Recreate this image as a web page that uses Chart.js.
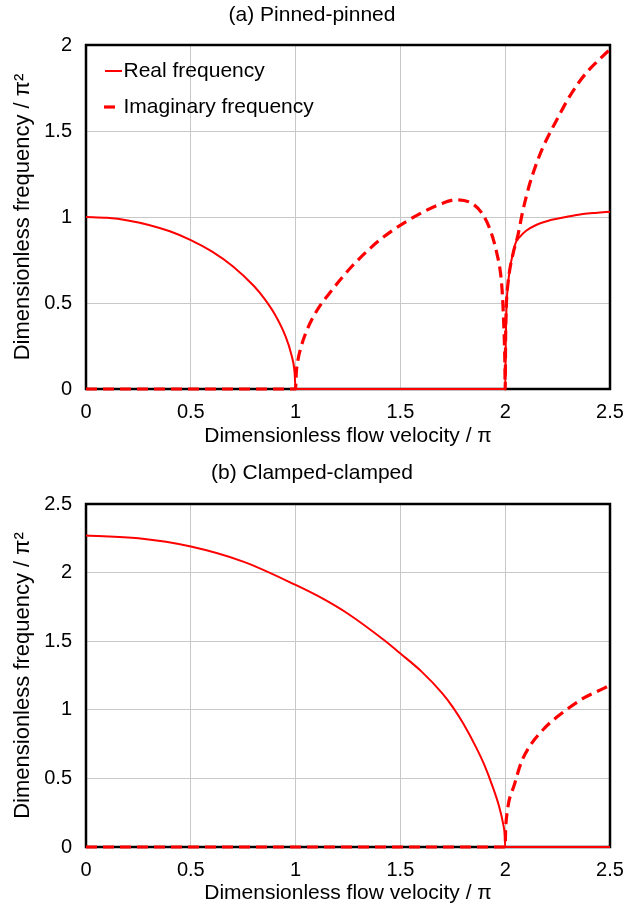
<!DOCTYPE html>
<html><head><meta charset="utf-8">
<script src="https://cdn.jsdelivr.net/npm/chart.js@4.4.1/dist/chart.umd.min.js"></script>
<style>html,body{margin:0;padding:0;background:#fff;}canvas{position:absolute;left:0;display:block;}</style>
</head><body>
<canvas id="c1" width="628" height="455" style="top:0px"></canvas>
<canvas id="c2" width="628" height="454" style="top:455px"></canvas>
<script>
// ---- text ----
const chartTitles = ['(a) Pinned-pinned', '(b) Clamped-clamped'];
const seriesNames = ['Real frequency', 'Imaginary frequency'];
const xAxisTitle = 'Dimensionless flow velocity / π';
const yAxisTitle = 'Dimensionless frequency / π²';
const xTickLabels = ['0', '0.5', '1', '1.5', '2', '2.5'];
const yTickLabelsA = ['0', '0.5', '1', '1.5', '2'];
const yTickLabelsB = ['0', '0.5', '1', '1.5', '2', '2.5'];

// ---- (a) Pinned-pinned ----
const ppRealX = [0, 0.1, 0.2, 0.3, 0.4, 0.5, 0.6, 0.7, 0.8, 0.85, 0.9, 0.95, 0.98, 0.995, 1.0, 2.0, 2.003, 2.007, 2.013, 2.02, 2.035, 2.05, 2.07, 2.1, 2.15, 2.21, 2.29, 2.37, 2.44, 2.5];
const ppRealY = [1.0, 0.995, 0.98, 0.954, 0.917, 0.866, 0.80, 0.714, 0.60, 0.527, 0.436, 0.312, 0.199, 0.1, 0, 0, 0.3, 0.5, 0.6, 0.68, 0.78, 0.85, 0.885, 0.92, 0.955, 0.98, 1.0, 1.017, 1.025, 1.031];
const ppImagX = [0, 1.0, 1.003, 1.01, 1.025, 1.05, 1.08, 1.12, 1.17, 1.22, 1.27, 1.34, 1.4, 1.46, 1.53, 1.61, 1.69, 1.765, 1.84, 1.89, 1.93, 1.96, 1.98, 1.987, 1.993, 1.998, 2.0, 2.002, 2.006, 2.012, 2.02, 2.04, 2.06, 2.083, 2.114, 2.146, 2.178, 2.218, 2.257, 2.297, 2.344, 2.392, 2.44, 2.5];
const ppImagY = [0, 0, 0.09, 0.16, 0.24, 0.33, 0.41, 0.49, 0.57, 0.645, 0.715, 0.80, 0.865, 0.92, 0.975, 1.03, 1.075, 1.10, 1.08, 1.02, 0.92, 0.79, 0.65, 0.54, 0.38, 0.18, 0, 0.3, 0.5, 0.6, 0.68, 0.8, 0.89, 1.03, 1.18, 1.30, 1.40, 1.50, 1.59, 1.68, 1.77, 1.845, 1.905, 1.975];

// ---- (b) Clamped-clamped ----
const ccRealX = [0, 0.25, 0.5, 0.75, 1.0, 1.13, 1.25, 1.42, 1.5, 1.6, 1.7, 1.75, 1.8, 1.86, 1.9, 1.94, 1.97, 1.99, 1.998, 2.0, 2.5];
const ccRealY = [2.27, 2.25, 2.19, 2.08, 1.91, 1.81, 1.70, 1.51, 1.41, 1.28, 1.12, 1.02, 0.90, 0.73, 0.60, 0.44, 0.30, 0.17, 0.08, 0, 0];
const ccImagX = [0, 2.0, 2.002, 2.01, 2.045, 2.075, 2.115, 2.19, 2.245, 2.30, 2.38, 2.475, 2.5];
const ccImagY = [0, 0, 0.12, 0.26, 0.46, 0.61, 0.73, 0.87, 0.945, 1.01, 1.09, 1.16, 1.18];

Chart.defaults.font.family = "'Liberation Sans', Arial, sans-serif";
Chart.defaults.color = '#000';

function zip(xs, ys) { return xs.map((x, i) => ({x: x, y: ys[i]})); }

function sample(dash, lw, x0, x1) {
  const c = document.createElement('canvas');
  c.width = 32; c.height = 8;
  const g = c.getContext('2d');
  g.strokeStyle = '#ff0000'; g.lineWidth = lw; g.setLineDash(dash);
  g.beginPath(); g.moveTo(x0, 4); g.lineTo(x1, 4); g.stroke();
  return c;
}

const framePlugin = {
  id: 'frame',
  beforeDatasetsDraw(chart) {
    const {ctx, chartArea: a} = chart;
    ctx.save();
    ctx.strokeStyle = '#000';
    ctx.lineWidth = 2.5;
    ctx.strokeRect(a.left, a.top, a.right - a.left, a.bottom - a.top);
    ctx.restore();
  }
};

function build(id, o) {
  const datasets = [
    {label: seriesNames[0], data: zip(o.rx, o.ry), borderColor: '#ff0000', backgroundColor: '#ff0000',
     borderWidth: 2, pointRadius: 0, showLine: true, cubicInterpolationMode: 'monotone', clip: false,
     pointStyle: sample([], 2, 14, 31)},
    {label: seriesNames[1], data: zip(o.ix, o.iy), borderColor: '#ff0000', backgroundColor: '#ff0000',
     borderWidth: 3.2, borderDash: [11, 6], pointRadius: 0, showLine: true, cubicInterpolationMode: 'monotone', clip: false,
     pointStyle: sample([], 3.2, 13, 24)}
  ];
  return new Chart(document.getElementById(id), {
    type: 'scatter',
    data: {datasets},
    plugins: [framePlugin],
    options: {
      responsive: false, animation: false, devicePixelRatio: 1,
      layout: {padding: {left: 0, right: 4, top: 0, bottom: 0}},
      plugins: {
        title: {display: true, text: o.title, color: '#000', font: {size: 21, weight: 'normal'},
                padding: {top: o.tTop, bottom: o.tBottom}},
        legend: {display: o.legend, position: 'chartArea', align: 'start',
                 title: {display: true, text: ' ', font: {size: 1}, padding: {top: 44.3, bottom: 0}},
                 labels: {usePointStyle: true, pointStyleWidth: 12, padding: 15, color: '#000', font: {size: 21}}},
        tooltip: {enabled: false}
      },
      scales: {
        x: {type: 'linear', min: 0, max: 2.5,
            ticks: {stepSize: 0.5, autoSkip: false, maxRotation: 0, padding: 11, color: '#000', font: {size: 20},
                    callback: (v) => xTickLabels[Math.round(v / 0.5)]},
            grid: {color: '#c8c8c8', lineWidth: 1, drawTicks: false},
            border: {display: false},
            title: {display: true, text: xAxisTitle, color: '#000', font: {size: 21}, padding: {top: 0, bottom: o.xtB}},
            afterFit(s) { s.height = o.xH; s.paddingLeft = 0; s.paddingRight = 18; }},
        y: {type: 'linear', min: 0, max: o.ymax,
            ticks: {stepSize: 0.5, autoSkip: false, padding: 14, color: '#000', font: {size: 20},
                    callback: (v) => o.yLabels[Math.round(v / 0.5)]},
            grid: {color: '#c8c8c8', lineWidth: 1, drawTicks: false},
            border: {display: false},
            title: {display: true, text: yAxisTitle, color: '#000', font: {size: 22}, padding: {top: 10, bottom: 0}},
            afterFit(s) { s.width = 86; s.paddingTop = 0; s.paddingBottom = 0; }}
      }
    }
  });
}

build('c1', {rx: ppRealX, ry: ppRealY, ix: ppImagX, iy: ppImagY, title: chartTitles[0], legend: true,
             ymax: 2, yLabels: yTickLabelsA, tTop: 2.4, tBottom: 17.4, xH: 66, xtB: 6.4});
build('c2', {rx: ccRealX, ry: ccRealY, ix: ccImagX, iy: ccImagY, title: chartTitles[1], legend: false,
             ymax: 2.5, yLabels: yTickLabelsB, tTop: 5.4, tBottom: 18.4, xH: 62, xtB: 3.4});
</script>
</body></html>
